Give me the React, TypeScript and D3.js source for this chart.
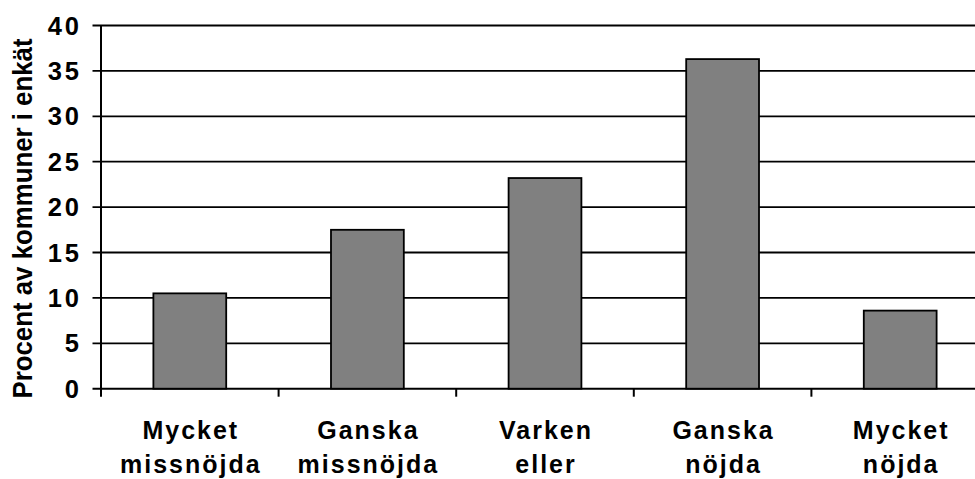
import React from "react";
import * as d3 from "d3";

// survey answers, two-line labels
const categories = [
  ["Mycket", "missnöjda"],
  ["Ganska", "missnöjda"],
  ["Varken", "eller"],
  ["Ganska", "nöjda"],
  ["Mycket", "nöjda"],
];
const values = [10.5, 17.5, 23.2, 36.3, 8.6];
const yTicks = [0, 5, 10, 15, 20, 25, 30, 35, 40];
const yTitle = "Procent av kommuner i enkät";

const width = 975;
const height = 479;
const margin = { top: 25.5, right: -14, bottom: 90, left: 101 };
const font = "'Liberation Sans', Arial, Helvetica, sans-serif";

export default function App() {
  const keys = categories.map((c) => c.join(" "));

  const xScale = d3
    .scaleBand<string>()
    .domain(keys)
    .range([margin.left, width - margin.right])
    .padding(0);

  const yScale = d3
    .scaleLinear()
    .domain([0, 40])
    .range([height - margin.bottom - 0.3, margin.top]);

  const step = xScale.step();
  const barW = step * 0.41;
  const y0 = yScale(0);
  const xEnd = width - margin.right;

  return (
    <svg
      width={width}
      height={height}
      style={{ position: "absolute", left: 0, top: 0, background: "#fff" }}
    >
      {/* gridlines + y ticks */}
      <g>
        {yTicks.map((t) => (
          <g key={t}>
            <line
              x1={margin.left - 8.5}
              x2={xEnd}
              y1={yScale(t)}
              y2={yScale(t)}
              stroke="#000"
              strokeWidth={t === 0 ? 2 : 1.8}
            />
            <text
              x={82}
              y={yScale(t)}
              dy="0.36em"
              textAnchor="end"
              fontFamily={font}
              fontWeight="bold"
              fontSize={25.5}
              letterSpacing={3}
            >
              {t}
            </text>
          </g>
        ))}
      </g>

      {/* bars */}
      <g>
        {keys.map((k, i) => (
          <rect
            key={k}
            x={(xScale(k) as number) + (step - barW) / 2}
            y={yScale(values[i])}
            width={barW}
            height={y0 - yScale(values[i])}
            fill="#808080"
            stroke="#000"
            strokeWidth={1.8}
          />
        ))}
      </g>

      {/* y axis line */}
      <line
        x1={margin.left}
        x2={margin.left}
        y1={margin.top}
        y2={y0 + 8}
        stroke="#000"
        strokeWidth={2}
      />

      {/* x axis ticks at band edges */}
      {keys.map((k) => (
        <line
          key={"t" + k}
          x1={(xScale(k) as number) + step}
          x2={(xScale(k) as number) + step}
          y1={y0}
          y2={y0 + 8}
          stroke="#000"
          strokeWidth={2}
        />
      ))}

      {/* category labels */}
      {categories.map((lines, i) => {
        const cx = (xScale(keys[i]) as number) + step / 2;
        return (
          <text
            key={"l" + i}
            textAnchor="middle"
            fontFamily={font}
            fontWeight="bold"
            fontSize={25}
            letterSpacing={2}
          >
            {lines.map((ln, j) => (
              <tspan key={j} x={cx + 1} y={438.5 + j * 34.5}>
                {ln}
              </tspan>
            ))}
          </text>
        );
      })}

      {/* y title */}
      <text
        transform={`translate(32, ${218.5}) rotate(-90)`}
        textAnchor="middle"
        fontFamily={font}
        fontWeight="bold"
        fontSize={28}
        textLength={360}
        lengthAdjust="spacingAndGlyphs"
      >
        {yTitle}
      </text>
    </svg>
  );
}
